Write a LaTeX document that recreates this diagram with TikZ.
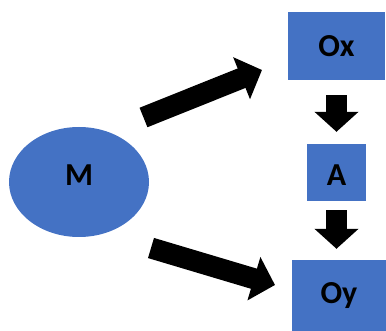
\documentclass[tikz,border=0pt]{standalone}
\usepackage{fontspec}
\setmainfont{Carlito}
\usetikzlibrary{arrows.meta,shapes.geometric}
\definecolor{boxblue}{RGB}{68,114,196}
\begin{document}
\begin{tikzpicture}[x=1pt, y=-1pt,
  every node/.style={font=\fontsize{32}{36}\selectfont\bfseries, fill=boxblue, inner sep=0pt},
  fat/.style={line width=21pt, -{Triangle[length=22pt, width=44pt]}},
  drop/.style={line width=21pt, -{Triangle[length=20pt, width=43pt]}}]
\useasboundingbox (0,0) rectangle (386,331);
\node[ellipse, minimum width=140pt, minimum height=110pt, text depth=14pt] (M) at (79,182) {M};
\node[minimum width=97pt, minimum height=68pt] (Ox) at (336.5,46) {Ox};
\node[minimum width=59pt, minimum height=57pt, text height=26pt] (A) at (336.5,172.5) {A};
\node[minimum width=94pt, minimum height=71pt] (Oy) at (339,295.5) {Oy};
\coordinate (Mup) at (143.5,117.5);
\coordinate (Oxin) at (262,70);
\coordinate (Mdown) at (151,248);
\coordinate (Oyin) at (275,285);
\draw[fat] (Mup) -- (Oxin);
\draw[fat] (Mdown) -- (Oyin);
\draw[drop, shorten <=15pt, shorten >=12pt] (Ox.south) -- (A.north);
\draw[drop, shorten <=9pt, shorten >=11pt] (A.south) -- (A.south |- Oy.north);
\end{tikzpicture}
\end{document}
